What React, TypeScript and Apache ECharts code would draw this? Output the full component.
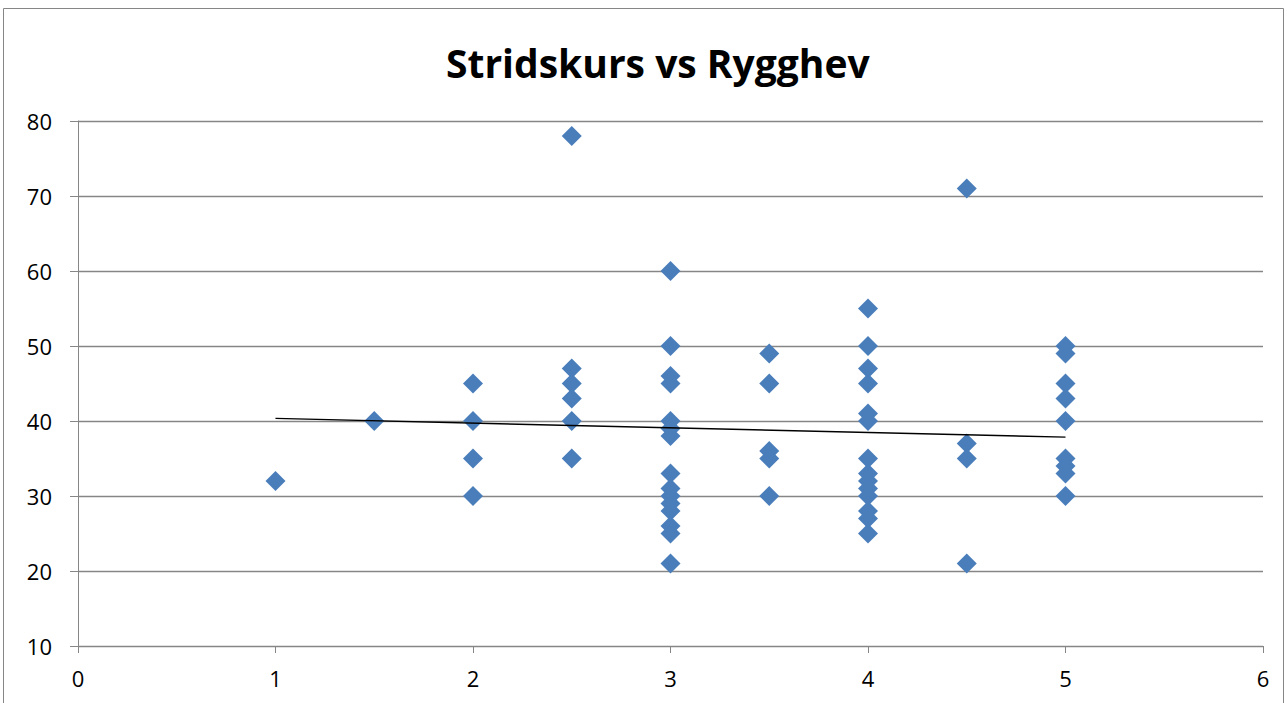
import React, { useEffect, useRef } from "react";
import * as echarts from "echarts";

const xs1 = [1, 1.5, 2, 2, 2, 2, 2.5, 2.5, 2.5, 2.5, 2.5, 2.5];
const ys1 = [32, 40, 45, 40, 35, 30, 78, 47, 45, 43, 40, 35];
const ys3 = [60, 50, 46, 45, 40, 39, 38, 33, 31, 30, 29, 28, 26, 25, 21];
const ys35 = [49, 45, 36, 35, 30];
const ys4 = [55, 50, 47, 45, 41, 40, 35, 33, 32, 31, 30, 28, 27, 25];
const ys45 = [71, 37, 35, 21];
const ys5 = [50, 49, 45, 43, 40, 35, 34, 33, 30];

// Linear trend line endpoints
const trendX = [1, 5];
const trendY = [40.35, 37.85];

const xTicks = [0, 1, 2, 3, 4, 5, 6];
const yTicks = [10, 20, 30, 40, 50, 60, 70, 80];

const col = (x: number, ys: number[]) => ys.map((y) => [x, y]);

const points: number[][] = [
  ...ys1.map((y, i) => [xs1[i], y]),
  ...col(3, ys3),
  ...col(3.5, ys35),
  ...col(4, ys4),
  ...col(4.5, ys45),
  ...col(5, ys5),
];

export default function App() {
  const ref = useRef<HTMLDivElement>(null);
  useEffect(() => {
    document.body.style.margin = "0";
    const chart = echarts.init(ref.current!, null, { renderer: "svg" });
    const trend = trendX.map((x, i) => [x, trendY[i]]);
    const font = "Open Sans";
    chart.setOption({
      animation: false,
      backgroundColor: "#ffffff",
      graphic: [
        {
          type: "rect",
          shape: { x: 3.5, y: 8.5, width: 1280, height: 720 },
          style: { fill: "none", stroke: "#868686", lineWidth: 1 },
          silent: true,
        },
      ],
      title: {
        text: "Stridskurs vs Rygghev",
        left: 441,
        top: 38,
        textStyle: { fontFamily: font, fontWeight: "bold", fontSize: 39, color: "#000" },
      },
      grid: { left: 78, right: 24, top: 121, bottom: 57 },
      xAxis: {
        type: "value",
        min: xTicks[0],
        max: xTicks[xTicks.length - 1],
        interval: 1,
        axisLine: { show: true, lineStyle: { color: "#868686", width: 1 } },
        axisTick: { show: true, length: 7, lineStyle: { color: "#868686" } },
        splitLine: { show: false },
        axisLabel: { color: "#000", fontFamily: font, fontSize: 22, margin: 21 },
      },
      yAxis: {
        type: "value",
        min: yTicks[0],
        max: yTicks[yTicks.length - 1],
        interval: 10,
        axisLine: { show: true, lineStyle: { color: "#868686", width: 1 } },
        axisTick: { show: true, length: 8, lineStyle: { color: "#868686" } },
        splitLine: { show: true, lineStyle: { color: "#868686", width: 1.3 } },
        axisLabel: { color: "#000", fontFamily: font, fontSize: 22, margin: 26 },
      },
      series: [
        {
          type: "scatter",
          data: points,
          symbol: "diamond",
          symbolSize: 20,
          itemStyle: { color: "#4a7ebb", opacity: 1 },
          z: 3,
        },
        {
          type: "line",
          data: trend,
          showSymbol: false,
          symbol: "none",
          lineStyle: { color: "#000", width: 1.5 },
          z: 4,
        },
      ],
    });
    return () => chart.dispose();
  }, []);
  return <div ref={ref} style={{ width: 1287, height: 703 }} />;
}
